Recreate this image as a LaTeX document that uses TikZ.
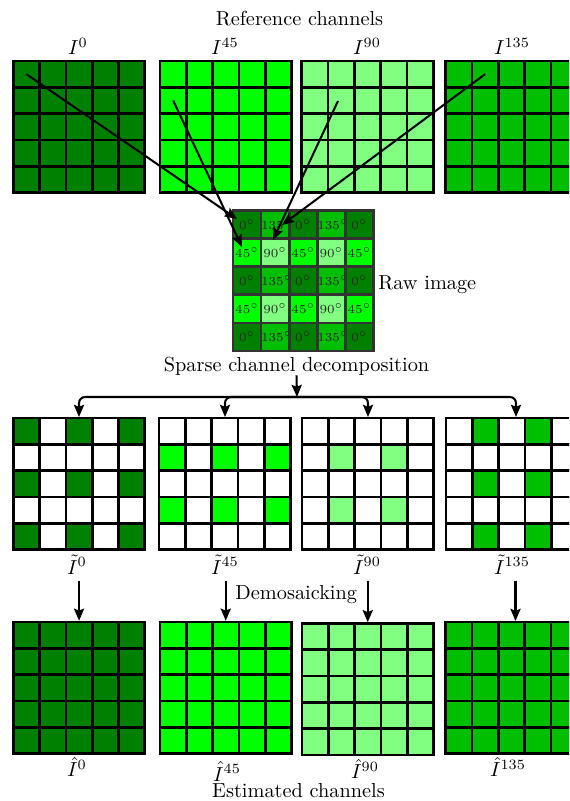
\documentclass[tikz,border=0pt]{standalone}
\usetikzlibrary{arrows.meta}
\definecolor{cA}{HTML}{008000}
\definecolor{cB}{HTML}{00FF00}
\definecolor{cC}{HTML}{80FF80}
\definecolor{cD}{HTML}{00BF00}
\tikzset{
  cellbox/.style={draw=black, line width=1.3pt, anchor=north west, inner sep=0pt, outer sep=0pt, minimum size=12.95pt},
  rawcell/.style={draw=black!80, line width=1.3pt, anchor=north west, inner sep=0pt, outer sep=0pt, minimum size=13.84pt, font=\fontsize{6.1}{7}\selectfont, text=black!85},
  arr/.style={line width=1pt, -{Stealth[length=6pt,width=5pt,inset=1pt]}},
  lbl/.style={anchor=base, inner sep=0pt},
  lblw/.style={anchor=base west, inner sep=0pt},
}
\newcommand{\cellgrid}[6]{%
  \foreach \r in {0,...,4}{\foreach \c in {0,...,4}{%
    \pgfmathtruncatemacro\gon{#6}%
    \ifnum\gon=1 \def\gfill{#5}\else\def\gfill{white}\fi
    \node[cellbox, fill=\gfill] (#1-\r-\c) at ({#2+\c*#4},{#3+\r*#4}) {};
  }}}
\begin{document}
\begin{tikzpicture}[x=0.4925pt, y=-0.4925pt]
\useasboundingbox (0,0) rectangle (569,801);
\clip (0,0) rectangle (569,801);
% titles
\node[lbl] (ref) at (299.5,26) {Reference channels};
\node[lbl] (l1) at (78,55) {$I^{0}$};
\node[lbl] (l2) at (225,55) {$I^{45}$};
\node[lbl] (l3) at (367,55) {$I^{90}$};
\node[lbl] (l4) at (512,55) {$I^{135}$};
% reference channels
\cellgrid{g1}{13.3}{61}{26.3}{cA}{1}
\cellgrid{g2}{160}{61}{26.3}{cB}{1}
\cellgrid{g3}{301.7}{61}{26.3}{cC}{1}
\cellgrid{g4}{445.7}{61}{26.3}{cD}{1}
% raw image
\foreach \r in {0,...,4}{\foreach \c in {0,...,4}{%
  \pgfmathtruncatemacro\rk{2*mod(\r,2)+mod(\c,2)}%
  \ifcase\rk \def\rf{cA}\def\rt{0}\or \def\rf{cD}\def\rt{135}\or \def\rf{cB}\def\rt{45}\or \def\rf{cC}\def\rt{90}\fi
  \node[rawcell, fill=\rf] (r-\r-\c) at ({233+\c*28.1},{210.5+\r*28.1}) {\rt$^\circ$};
}}
\node[lblw] (rawl) at (378,290) {Raw image};
\coordinate (t1) at (237,219);
\coordinate (t2) at (242,247);
\coordinate (t3) at (273,240);
\coordinate (t4) at (282,225);
\coordinate (g3s) at (338,101);
\draw[arr] (g1-0-0.center) -- (t1);
\draw[arr] (g2-1-0.center) -- (t2);
\draw[arr] (g3s) -- (t3);
\draw[arr] (g4-0-1.center) -- (t4);
% decomposition
\node[lbl] (dec) at (296.5,371) {Sparse channel decomposition};
\coordinate (split) at (297,397);
\draw[arr] (dec.south) -- (split);
\coordinate (s1in) at (79,417);
\coordinate (s2in) at (225,417);
\coordinate (s3in) at (368,417);
\coordinate (s4in) at (516,417);
\foreach \k in {1,2,3,4}{\draw[arr, rounded corners=3pt] (split) -| (s\k in);}
\cellgrid{s1}{13.3}{418}{26.3}{cA}{and(mod(\r,2)==0, mod(\c,2)==0)}
\cellgrid{s2}{159}{418}{26.3}{cB}{and(mod(\r,2)==1, mod(\c,2)==0)}
\cellgrid{s3}{302}{418}{26.3}{cC}{and(mod(\r,2)==1, mod(\c,2)==1)}
\cellgrid{s4}{446}{418}{26.3}{cD}{and(mod(\r,2)==0, mod(\c,2)==1)}
\node[lbl] (lt1) at (77,574) {$\tilde{I}^{0}$};
\node[lbl] (lt2) at (225,574) {$\tilde{I}^{45}$};
\node[lbl] (lt3) at (367,574) {$\tilde{I}^{90}$};
\node[lbl] (lt4) at (512,574) {$\tilde{I}^{135}$};
% demosaicking
\node[lblw] (dem) at (235,599) {Demosaicking};
\cellgrid{e1}{13.3}{622}{26.3}{cA}{1}
\cellgrid{e2}{160}{622}{26.3}{cB}{1}
\cellgrid{e3}{302}{623.5}{26.3}{cC}{1}
\cellgrid{e4}{445.7}{622}{26.3}{cD}{1}
\coordinate (e4in) at (515.5,621);
\draw[arr, shorten <=3pt, shorten >=0.6pt] (lt1.south -| e1-0-2.north) -- (e1-0-2.north);
\draw[arr, shorten <=3pt, shorten >=0.6pt] (lt2.south -| e2-0-2.north) -- (e2-0-2.north);
\draw[arr, shorten <=3pt, shorten >=0.6pt] (lt3.south -| e3-0-2.north) -- (e3-0-2.north);
\draw[arr, shorten <=3pt] (lt4.south -| e4in) -- (e4in);
\node[lbl] (le1) at (77,776.5) {$\hat{I}^{0}$};
\node[lbl] (le2) at (227,781) {$\hat{I}^{45}$};
\node[lbl] (le3) at (365,778.5) {$\hat{I}^{90}$};
\node[lbl] (le4) at (508,776.5) {$\hat{I}^{135}$};
\node[lbl] (est) at (298.5,797.5) {Estimated channels};
\end{tikzpicture}
\end{document}
